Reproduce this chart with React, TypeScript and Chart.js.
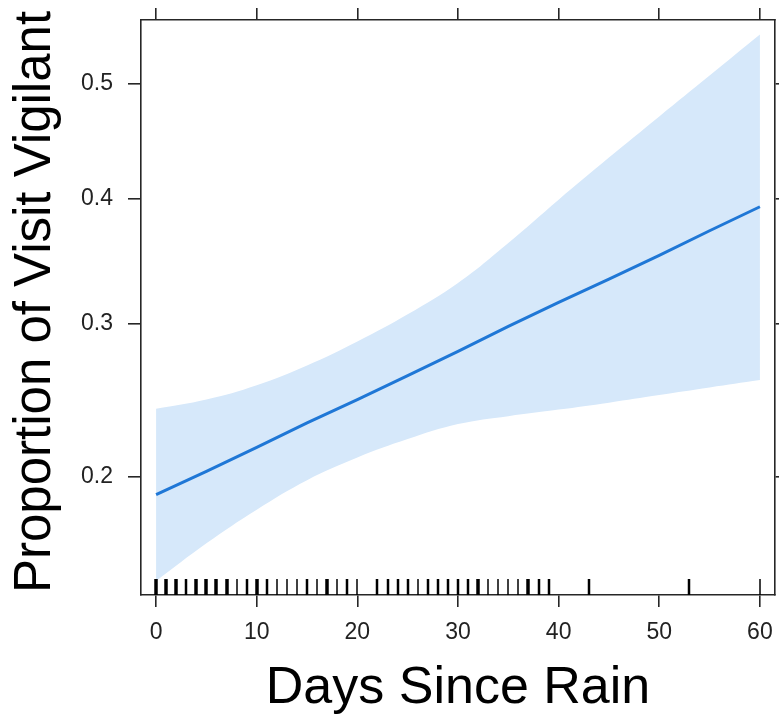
import React, { useEffect, useRef } from 'react';
import { Chart, registerables } from 'chart.js';

Chart.register(...registerables);

// ---- data (probabilities) ----
const days = [0, 5, 10, 15, 20, 25, 30, 35, 40, 45, 50, 55, 60];
const fitProb = [0.190, 0.203, 0.217, 0.232, 0.247, 0.263, 0.280, 0.298, 0.316, 0.334, 0.353, 0.373, 0.393];
const upperProb = [0.241, 0.247, 0.2565, 0.270, 0.287, 0.307, 0.331, 0.363, 0.399, 0.435, 0.471, 0.507, 0.543];
const lowerProb = [0.1475, 0.165, 0.182, 0.198, 0.211, 0.222, 0.2313, 0.2363, 0.2405, 0.245, 0.250, 0.255, 0.260];

const rugDays = [0, 1, 2, 3, 4, 5, 6, 7, 8, 9, 10, 11, 12, 13, 14, 15, 16, 17, 18, 19, 20,
  22, 23, 24, 25, 26, 27, 28, 29, 30, 31, 32, 33, 34, 35, 36, 37, 38, 39, 43, 53, 60];
const rugCounts = [3, 3, 3, 2, 3, 3, 3, 3, 1, 2, 3, 2, 1, 1, 1, 2, 1, 3, 1, 2, 1,
  2, 2, 2, 2, 1, 2, 2, 2, 2, 2, 3, 1, 1, 1, 1, 3, 2, 2, 2, 2, 1];

const xTicks = [0, 10, 20, 30, 40, 50, 60];
const yTicks = [0.2, 0.3, 0.4, 0.5];

const logit = (p: number) => Math.log(p / (1 - p));

const FONT = '"Liberation Sans", Arial, Helvetica, sans-serif';
const AXIS = '#262626';
const BAND = 'rgb(214, 232, 250)';
const LINE = '#1f77d6';

export default function App() {
  const ref = useRef<HTMLCanvasElement>(null);

  useEffect(() => {
    if (!ref.current) return;
    const yTickVals = yTicks.map(logit);
    const setTicks = (vals: number[]) => (scale: any) => {
      scale.ticks = vals.map((v) => ({ value: v }));
    };
    const fitTo = (dim: 'width' | 'height', size: number) => (s: any) => {
      s[dim] = size;
      s.paddingTop = 0;
      s.paddingBottom = 0;
      s.paddingLeft = 0;
      s.paddingRight = 0;
    };

    const rugPlugin = {
      id: 'rug',
      afterDatasetsDraw(chart: any) {
        const { ctx, chartArea, scales } = chart;
        ctx.save();
        ctx.strokeStyle = '#000';
        rugDays.forEach((d, i) => {
          const x = Math.round(scales.x.getPixelForValue(d));
          ctx.lineWidth = rugCounts[i] + 0.5;
          ctx.beginPath();
          ctx.moveTo(x, chartArea.bottom);
          ctx.lineTo(x, chartArea.bottom - 16);
          ctx.stroke();
        });
        ctx.restore();
      },
    };

    const titlePlugin = {
      id: 'titles',
      afterDraw(chart: any) {
        const { ctx, chartArea } = chart;
        ctx.save();
        ctx.fillStyle = '#000';
        ctx.font = `52px ${FONT}`;
        ctx.textAlign = 'center';
        ctx.textBaseline = 'alphabetic';
        ctx.fillText('Days Since Rain', (chartArea.left + chartArea.right) / 2, 703);
        ctx.font = `51px ${FONT}`;
        ctx.translate(50, 302);
        ctx.rotate(-Math.PI / 2);
        ctx.fillText('Proportion of Visit Vigilant', 0, 0);
        ctx.restore();
      },
    };

    const gridCommon = (len: number) => ({
      drawOnChartArea: false,
      drawTicks: true,
      tickLength: len,
      color: AXIS,
      lineWidth: 1.6,
    });
    const border = { color: AXIS, width: 1.6 };

    const chart = new Chart(ref.current, {
      type: 'line',
      data: {
        datasets: [
          {
            label: 'upper',
            data: days.map((d, i) => ({ x: d, y: logit(upperProb[i]) })),
            borderWidth: 0,
            pointRadius: 0,
            fill: '+1',
            backgroundColor: BAND,
            borderColor: BAND,
            tension: 0.4,
            order: 2,
          },
          {
            label: 'lower',
            data: days.map((d, i) => ({ x: d, y: logit(lowerProb[i]) })),
            borderWidth: 0,
            pointRadius: 0,
            fill: false,
            borderColor: BAND,
            tension: 0.4,
            order: 3,
          },
          {
            label: 'fit',
            data: days.map((d, i) => ({ x: d, y: logit(fitProb[i]) })),
            borderWidth: 3,
            borderColor: LINE,
            pointRadius: 0,
            fill: false,
            order: 1,
          },
        ],
      },
      options: {
        animation: false,
        responsive: false,
        events: [],
        plugins: { legend: { display: false }, tooltip: { enabled: false } },
        layout: { padding: 0 },
        scales: {
          x: {
            type: 'linear',
            position: 'bottom',
            min: -1.5,
            max: 61.5,
            afterBuildTicks: setTicks(xTicks),
            afterFit: fitTo('height', 124),
            grid: gridCommon(12),
            border,
            ticks: {
              font: { family: FONT, size: 23 },
              color: '#222',
              padding: 12,
              maxRotation: 0,
              autoSkip: false,
              callback: (v: any) => String(v),
            },
          },
          x2: {
            type: 'linear',
            position: 'top',
            min: -1.5,
            max: 61.5,
            afterBuildTicks: setTicks(xTicks),
            afterFit: fitTo('height', 20),
            grid: gridCommon(12),
            border,
            ticks: { display: false },
          },
          y: {
            type: 'linear',
            position: 'left',
            min: logit(0.1414),
            max: logit(0.5557),
            afterBuildTicks: setTicks(yTickVals),
            afterFit: fitTo('width', 141),
            grid: gridCommon(13),
            border,
            ticks: {
              font: { family: FONT, size: 23 },
              color: '#222',
              padding: 15,
              autoSkip: false,
              callback: (_v: any, i: number) => yTicks[i].toFixed(1),
            },
          },
          y2: {
            type: 'linear',
            position: 'right',
            min: logit(0.1414),
            max: logit(0.5557),
            afterBuildTicks: setTicks(yTickVals),
            afterFit: fitTo('width', 4),
            grid: gridCommon(4),
            border,
            ticks: { display: false },
          },
        },
      } as any,
      plugins: [rugPlugin, titlePlugin],
    });

    return () => chart.destroy();
  }, []);

  return (
    <div style={{ position: 'fixed', left: 0, top: 0, width: 779, height: 719, background: '#fff' }}>
      <canvas ref={ref} width={779} height={719} style={{ display: 'block' }} />
    </div>
  );
}
